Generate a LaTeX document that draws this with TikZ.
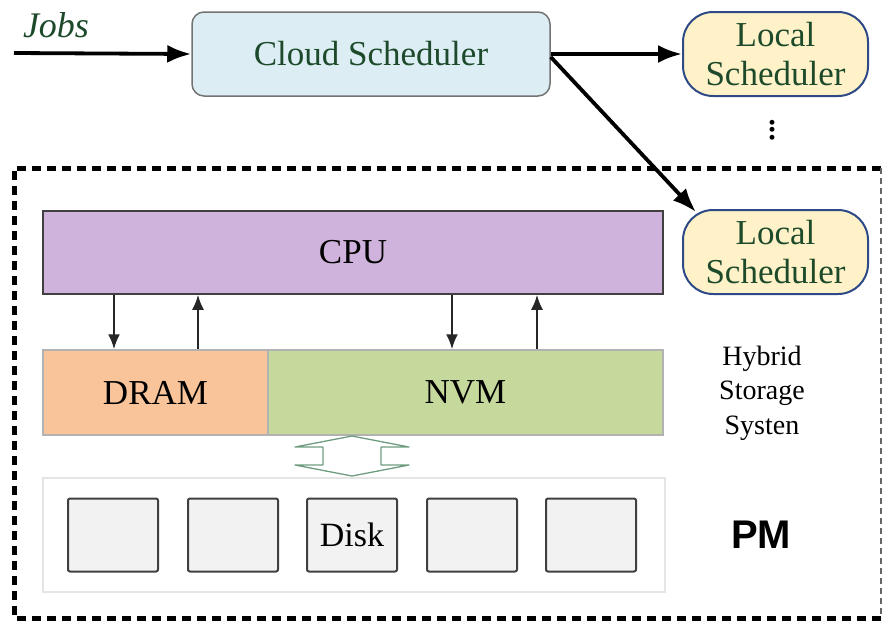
\documentclass[tikz,border=0pt]{standalone}
\usepackage{fontspec}
\setmainfont{Liberation Serif}
\newfontfamily\pmfont{Liberation Sans}
\usetikzlibrary{arrows.meta}
\definecolor{txtgreen}{HTML}{1E4A2C}
\definecolor{cloudfill}{HTML}{DCEEF4}
\definecolor{localfill}{HTML}{FFF2C8}
\definecolor{localedge}{HTML}{2E4A86}
\definecolor{cpufill}{HTML}{D0B3DC}
\definecolor{dramfill}{HTML}{F9C49A}
\definecolor{nvmfill}{HTML}{C6D99C}
\definecolor{diskfill}{HTML}{F2F2F2}
\definecolor{hollowedge}{HTML}{6F9C80}
\tikzset{
  x=1pt, y=-1pt,
  bigtxt/.style={font=\fontsize{35}{40}\selectfont},
  cloudbox/.style={draw=black!55, line width=1.5pt, fill=cloudfill, rounded corners=12pt,
    minimum width=358pt, minimum height=84pt, text=txtgreen, bigtxt},
  localbox/.style={draw=localedge, line width=2pt, fill=localfill, rounded corners=30pt,
    minimum width=185pt, minimum height=84pt, text=txtgreen, align=center,
    font=\fontsize{35}{39}\selectfont},
  unitbox/.style={draw=black!75, line width=1.5pt, minimum height=83pt, bigtxt},
  membox/.style={draw=black!30, line width=1.5pt, minimum height=85pt, bigtxt},
  diskbox/.style={draw=black!75, line width=2pt, fill=diskfill, rounded corners=2pt,
    minimum width=90pt, minimum height=73pt, font=\fontsize{34}{38}\selectfont},
  flow/.style={line width=3.8pt, -{Latex[length=24pt,width=18pt]}},
  bus/.style={line width=2pt, -{Latex[length=15pt,width=12pt]}, black!85},
  frame/.style={line width=5pt, dash pattern=on 9pt off 6pt},
}
\begin{document}
\begin{tikzpicture}
\useasboundingbox (0,0) rectangle (885,622);
% outer dashed frame of the physical machine
\draw[frame] (881,168) -- (14,168) -- (14,618) -- (881,618);
\draw[line width=1.5pt, black!60, dash pattern=on 6pt off 4pt] (881,168) -- (881,618);

% scheduling layer
\node[font=\fontsize{36}{40}\selectfont\itshape, text=txtgreen] (jobs) at (56,25) {Jobs};
\coordinate (jobsin) at (14,53);
\node[cloudbox] (cloud) at (371,54) {Cloud Scheduler};
\node[localbox] (local1) at (775.5,54) {Local\\Scheduler};
\node[localbox] (local2) at (775.5,252) {Local\\Scheduler};
\coordinate (local2tip) at (696,212);
\node[font=\fontsize{30}{30}\selectfont\bfseries] (dots) at (772,130) {\rotatebox{90}{...}};

\draw[flow] (jobsin) -- (cloud.west);
\draw[flow] (cloud.east) -- (local1.west);
\draw[flow] ([yshift=-3pt]cloud.east) -- (local2tip);

% processor and memory
\node[unitbox, fill=cpufill, minimum width=620pt] (cpu) at (353,252.5) {CPU};
\node[membox, fill=dramfill, minimum width=225pt] (dram) at (155.5,392.5) {DRAM};
\node[membox, fill=nvmfill, minimum width=395pt] (nvm) at (465.5,392.5) {NVM};

\draw[bus] (cpu.south -| 114,0) -- (dram.north -| 114,0);
\draw[bus] (dram.north -| 198,0) -- (cpu.south -| 198,0);
\draw[bus] (cpu.south -| 452,0) -- (nvm.north -| 452,0);
\draw[bus] (nvm.north -| 537,0) -- (cpu.south -| 537,0);

\node[font=\fontsize{28}{34.5}\selectfont, align=center] (hss) at (762,393) {Hybrid\\Storage\\Systen};

% hollow two-way arrow between memory and disks
\draw[hollowedge, line width=1.3pt, line join=round]
  (352,436) -- (295,447) -- (323,447) -- (323,465) -- (295,465) -- (352,476)
  -- (409,465) -- (381,465) -- (381,447) -- (409,447) -- cycle;

% disk array
\node[draw=black!10, line width=2.5pt, minimum width=622pt, minimum height=114pt] (array) at (354,535) {};
\node[diskbox] (d1) at (113,535) {};
\node[diskbox] (d2) at (233,535) {};
\node[diskbox] (d3) at (352,535) {Disk};
\node[diskbox] (d4) at (472,535) {};
\node[diskbox] (d5) at (591,535) {};

\node[font=\fontsize{40}{44}\selectfont\pmfont\bfseries] (pm) at (761,535) {PM};
\end{tikzpicture}
\end{document}
